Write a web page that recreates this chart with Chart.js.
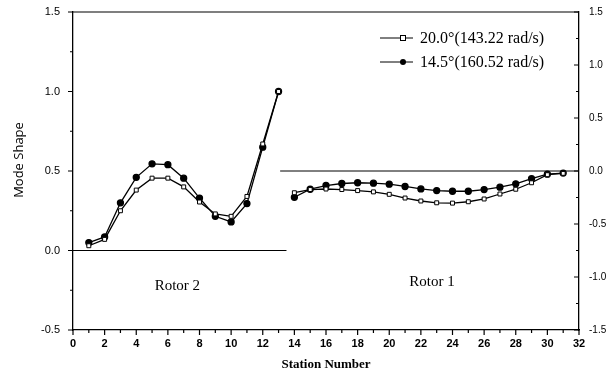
<!DOCTYPE html>
<html>
<head>
<meta charset="utf-8">
<script src="https://cdn.jsdelivr.net/npm/chart.js@4.4.1/dist/chart.umd.min.js"></script>
<style>
  html, body { margin: 0; padding: 0; background: #fff; }
  #wrap { width: 607px; height: 381px; }
</style>
</head>
<body>
<div id="wrap"><canvas id="modeChart" width="607" height="381"></canvas></div>
<script>
// stations and mode shape values
const rotor2Stations = [1, 2, 3, 4, 5, 6, 7, 8, 9, 10, 11, 12, 13];
const rotor2Open = [0.03, 0.07, 0.25, 0.38, 0.455, 0.455, 0.40, 0.305, 0.23, 0.215, 0.34, 0.67, 1.0];
const rotor2Filled = [0.05, 0.085, 0.30, 0.46, 0.545, 0.54, 0.455, 0.33, 0.215, 0.18, 0.295, 0.65, 1.0];

const rotor1Stations = [14, 15, 16, 17, 18, 19, 20, 21, 22, 23, 24, 25, 26, 27, 28, 29, 30, 31];
const rotor1Open = [-0.205, -0.175, -0.17, -0.175, -0.185, -0.197, -0.22, -0.255, -0.283, -0.30, -0.303, -0.29, -0.264, -0.217, -0.172, -0.111, -0.035, -0.022];
const rotor1Filled = [-0.248, -0.172, -0.137, -0.118, -0.111, -0.115, -0.124, -0.146, -0.169, -0.185, -0.191, -0.191, -0.175, -0.153, -0.121, -0.073, -0.03, -0.02];

const xTicks = [0, 2, 4, 6, 8, 10, 12, 14, 16, 18, 20, 22, 24, 26, 28, 30, 32];
const leftTicks = [-0.5, 0.0, 0.5, 1.0, 1.5];
const rightTicks = [-1.5, -1.0, -0.5, 0.0, 0.5, 1.0, 1.5];

const seriesLabels = ["20.0°(143.22 rad/s)", "14.5°(160.52 rad/s)"];

const toPoints = (xs, ys) => xs.map((x, i) => ({ x: x, y: ys[i] }));

const serif = "'Liberation Serif', 'DejaVu Serif', serif";
const sans = "'Liberation Sans', Arial, sans-serif";

// tick marks, frame, titles, legend and rotor labels
const decorations = {
    id: "decorations",
    afterDraw(chart) {
        const ctx = chart.ctx;
        const area = chart.chartArea;
        const x = chart.scales.x;
        const y = chart.scales.y;
        const y2 = chart.scales.y2;
        ctx.save();
        ctx.strokeStyle = "#000";
        ctx.lineWidth = 1.2;

        // top frame line
        ctx.beginPath();
        ctx.moveTo(area.left, area.top);
        ctx.lineTo(area.right, area.top);
        ctx.stroke();

        ctx.beginPath();
        for (let v = 0; v <= 32; v++) {
            const px = x.getPixelForValue(v);
            const len = v % 2 === 0 ? 5 : 3;
            ctx.moveTo(px, area.bottom);
            ctx.lineTo(px, area.bottom + len);
        }
        for (let v = -0.5; v <= 1.5001; v += 0.25) {
            const py = y.getPixelForValue(v);
            const len = Math.abs(v * 2 - Math.round(v * 2)) < 0.01 ? 5 : 3;
            ctx.moveTo(area.left, py);
            ctx.lineTo(area.left - len, py);
        }
        for (let v = -1.5; v <= 1.5001; v += 0.25) {
            const py = y2.getPixelForValue(v);
            const len = Math.abs(v * 2 - Math.round(v * 2)) < 0.01 ? 5 : 3;
            ctx.moveTo(area.right, py);
            ctx.lineTo(area.right - len, py);
        }
        ctx.stroke();

        // axis titles
        ctx.fillStyle = "#000";
        ctx.font = "bold 13px " + serif;
        ctx.textAlign = "center";
        ctx.textBaseline = "middle";
        ctx.fillText("Station Number", (area.left + area.right) / 2, 365);
        ctx.save();
        ctx.font = "13px 'Open Sans', sans-serif";
        ctx.translate(19, (area.top + area.bottom) / 2 - 11);
        ctx.rotate(-Math.PI / 2);
        ctx.fillText("Mode Shape", 0, 0);
        ctx.restore();

        // rotor labels
        ctx.font = "15px " + serif;
        ctx.fillText("Rotor 2", x.getPixelForValue(6.6), y.getPixelForValue(-0.225));
        ctx.fillText("Rotor 1", x.getPixelForValue(22.7), y.getPixelForValue(-0.2));

        // legend
        const rows = [area.top + 26, area.top + 50];
        ctx.textAlign = "left";
        ctx.font = "16px " + serif;
        seriesLabels.forEach((label, i) => {
            const ly = rows[i];
            const x0 = area.right - 199;
            ctx.lineWidth = 1;
            ctx.beginPath();
            ctx.moveTo(x0, ly);
            ctx.lineTo(x0 + 33, ly);
            ctx.stroke();
            const mx = x0 + 23;
            if (i === 0) {
                ctx.fillStyle = "#fff";
                ctx.fillRect(mx - 2.5, ly - 2.5, 5, 5);
                ctx.strokeRect(mx - 2.5, ly - 2.5, 5, 5);
            } else {
                ctx.fillStyle = "#000";
                ctx.beginPath();
                ctx.arc(mx, ly, 3, 0, Math.PI * 2);
                ctx.fill();
            }
            ctx.fillStyle = "#000";
            ctx.fillText(label, x0 + 40, ly + 1);
        });
        ctx.restore();
    },
};

const openStyle = {
    borderColor: "#000",
    borderWidth: 1.3,
    pointStyle: "rect",
    pointRadius: 2.8,
    pointBackgroundColor: "#fff",
    pointBorderColor: "#000",
    pointBorderWidth: 1,
    showLine: true,
    tension: 0,
};
const filledStyle = {
    borderColor: "#000",
    borderWidth: 1.3,
    pointStyle: "circle",
    pointRadius: 3,
    pointBackgroundColor: "#000",
    pointBorderColor: "#000",
    showLine: true,
    tension: 0,
};
const refStyle = {
    borderColor: "#000",
    borderWidth: 1,
    pointRadius: 0,
    showLine: true,
};

const fitY = (w) => (s) => {
    s.width = w;
    s.paddingTop = 0;
    s.paddingBottom = 0;
};

new Chart(document.getElementById("modeChart"), {
    type: "scatter",
    data: {
        datasets: [
            { label: "ref2", data: [{ x: 0, y: 0 }, { x: 13.5, y: 0 }], yAxisID: "y", ...refStyle },
            { label: "ref1", data: [{ x: 13.1, y: 0 }, { x: 32, y: 0 }], yAxisID: "y2", ...refStyle },
            { label: seriesLabels[0], data: toPoints(rotor2Stations, rotor2Open), yAxisID: "y", ...openStyle },
            { label: seriesLabels[1], data: toPoints(rotor2Stations, rotor2Filled), yAxisID: "y", ...filledStyle },
            { label: seriesLabels[0], data: toPoints(rotor1Stations, rotor1Open), yAxisID: "y2", ...openStyle },
            { label: seriesLabels[1], data: toPoints(rotor1Stations, rotor1Filled), yAxisID: "y2", ...filledStyle },
        ],
    },
    options: {
        responsive: false,
        animation: false,
        events: [],
        layout: { padding: { top: 12, left: 0, right: 0, bottom: 0 } },
        plugins: {
            legend: { display: false },
            tooltip: { enabled: false },
        },
        scales: {
            x: {
                type: "linear",
                min: 0,
                max: 32,
                afterBuildTicks: (s) => { s.ticks = xTicks.map((v) => ({ value: v })); },
                afterFit: (s) => { s.height = 51; s.paddingLeft = 0; s.paddingRight = 0; },
                ticks: { padding: 7, color: "#000", font: { family: sans, size: 11, weight: "bold" }, maxRotation: 0 },
                grid: { display: false, drawTicks: false },
                border: { color: "#000", width: 1.3 },
            },
            y: {
                position: "left",
                min: -0.5,
                max: 1.5,
                afterBuildTicks: (s) => { s.ticks = leftTicks.map((v) => ({ value: v })); },
                afterFit: fitY(73),
                ticks: { padding: 13, color: "#000", font: { family: sans, size: 11 }, callback: (v) => v.toFixed(1) },
                grid: { display: false, drawTicks: false },
                border: { color: "#000", width: 1.3 },
            },
            y2: {
                position: "right",
                min: -1.5,
                max: 1.5,
                afterBuildTicks: (s) => { s.ticks = rightTicks.map((v) => ({ value: v })); },
                afterFit: fitY(28),
                ticks: { padding: 10, color: "#000", font: { family: sans, size: 10 }, callback: (v) => v.toFixed(1) },
                grid: { display: false, drawTicks: false },
                border: { color: "#000", width: 1.3 },
            },
        },
    },
    plugins: [decorations],
});
</script>
</body>
</html>
